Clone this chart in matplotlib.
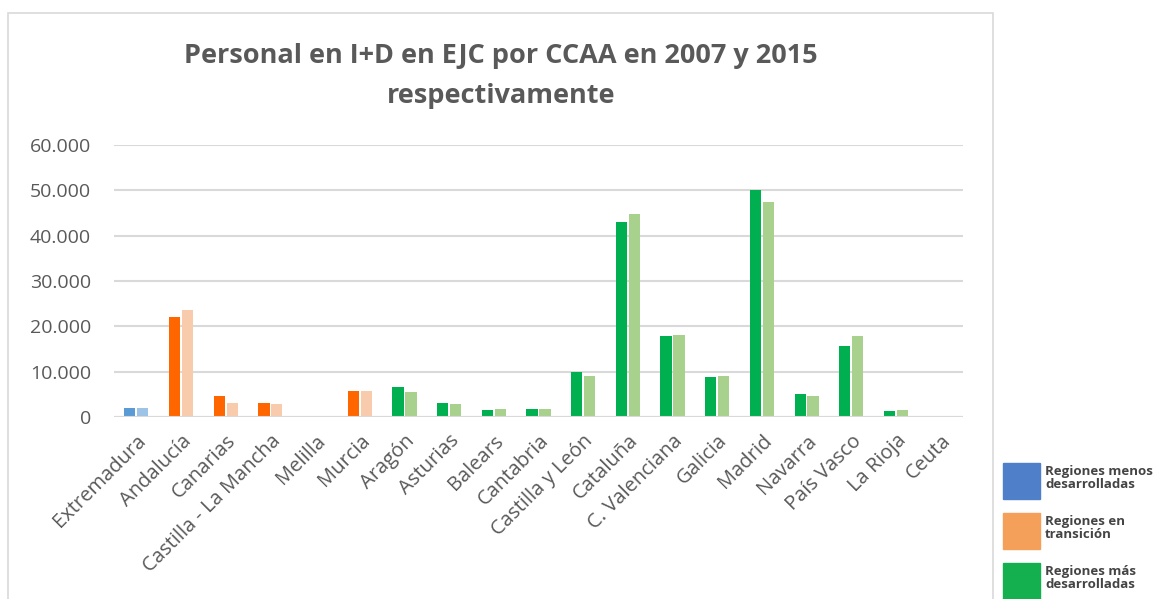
import numpy as np
import matplotlib
matplotlib.use("Agg")
import matplotlib.pyplot as plt
from matplotlib.patches import Rectangle

CATS = ["Extremadura", "Andalucía", "Canarias", "Castilla - La Mancha", "Melilla",
        "Murcia", "Aragón", "Asturias", "Balears", "Cantabria", "Castilla y León",
        "Cataluña", "C. Valenciana", "Galicia", "Madrid", "Navarra", "País Vasco",
        "La Rioja", "Ceuta"]
V2007 = [1900, 21950, 4600, 3050, 0, 5700, 6600, 3100, 1550, 1770, 9900,
         43100, 17850, 8800, 50150, 5000, 15650, 1250, 0]
V2015 = [1900, 23500, 3050, 2800, 0, 5700, 5500, 2900, 1770, 1770, 9000,
         44800, 18050, 9000, 47500, 4550, 17850, 1450, 0]
# 0 = menos desarrolladas, 1 = en transición, 2 = más desarrolladas
GROUP = [0, 1, 1, 1, 1, 1, 2, 2, 2, 2, 2, 2, 2, 2, 2, 2, 2, 2, 2]
YTICKS = [0, 10000, 20000, 30000, 40000, 50000, 60000]
YTICKLABELS = ["0", "10.000", "20.000", "30.000", "40.000", "50.000", "60.000"]
LEGEND_LABELS = ["Regiones menos\ndesarrolladas", "Regiones en\ntransición",
                 "Regiones más\ndesarrolladas"]

DARK = ["#5B9BD5", "#FF6600", "#00B050"]
LIGHT = ["#9DC3E6", "#F8CBAD", "#A9D18E"]
LEG_COL = ["#4F7FC8", "#F5A05A", "#14B050"]
TXT = "#595959"
GRID = "#D9D9D9"

plt.rcParams["font.family"] = ["Open Sans", "DejaVu Sans"]

W, H = 1169, 599
fig = plt.figure(figsize=(W / 100, H / 100), dpi=100)

# marco del gráfico
fig.patches.append(Rectangle((8 / W, -0.02), (993 - 8) / W, 1 - 13 / H + 0.02,
                             transform=fig.transFigure, fill=False,
                             edgecolor=GRID, lw=1.2))

ax = fig.add_axes([114 / W, 1 - 417 / H, (963 - 114) / W, (417 - 145) / H])
x = np.arange(len(CATS))
bw = 0.25
off = 0.145
c1 = [DARK[g] for g in GROUP]
c2 = [LIGHT[g] for g in GROUP]
ax.bar(x - off, V2007, bw, color=c1, zorder=3)
ax.bar(x + off, V2015, bw, color=c2, zorder=3)

ax.set_xlim(-0.5, len(CATS) - 0.5)
ax.set_ylim(0, 60000)
ax.set_yticks(YTICKS)
ax.set_yticklabels(YTICKLABELS, fontsize=14, color=TXT)
ax.yaxis.grid(True, color=GRID, lw=1.5, zorder=0)
ax.axhline(0, color=GRID, lw=1.5, zorder=4)
for s in ax.spines.values():
    s.set_visible(False)
ax.tick_params(length=0)
ax.tick_params(axis="y", pad=16.5)
ax.set_xticks(x)
ax.set_xticklabels(CATS, rotation=45, ha="right", va="top", rotation_mode="anchor",
                   fontsize=14.5, color=TXT)
ax.tick_params(axis="x", pad=10)

fig.text(501 / W, 1 - 56 / H, "Personal en I+D en EJC por CCAA en 2007 y 2015",
         ha="center", va="center", fontsize=19.5, fontweight="bold", color=TXT)
fig.text(501 / W, 1 - 96 / H, "respectivamente",
         ha="center", va="center", fontsize=19.5, fontweight="bold", color=TXT)

# leyenda (fuera del marco)
for i, (lab, col) in enumerate(zip(LEGEND_LABELS, LEG_COL)):
    y0 = 463 + i * 50
    fig.patches.append(Rectangle((1003 / W, 1 - (y0 + 36) / H), 37 / W, 36 / H,
                                 transform=fig.transFigure, color=col))
    fig.text(1045 / W, 1 - (y0 + 15) / H, lab, ha="left", va="center",
             fontsize=9.5, fontweight="bold", color="#444444", linespacing=1.05)

fig.savefig("out.png", dpi=100)
